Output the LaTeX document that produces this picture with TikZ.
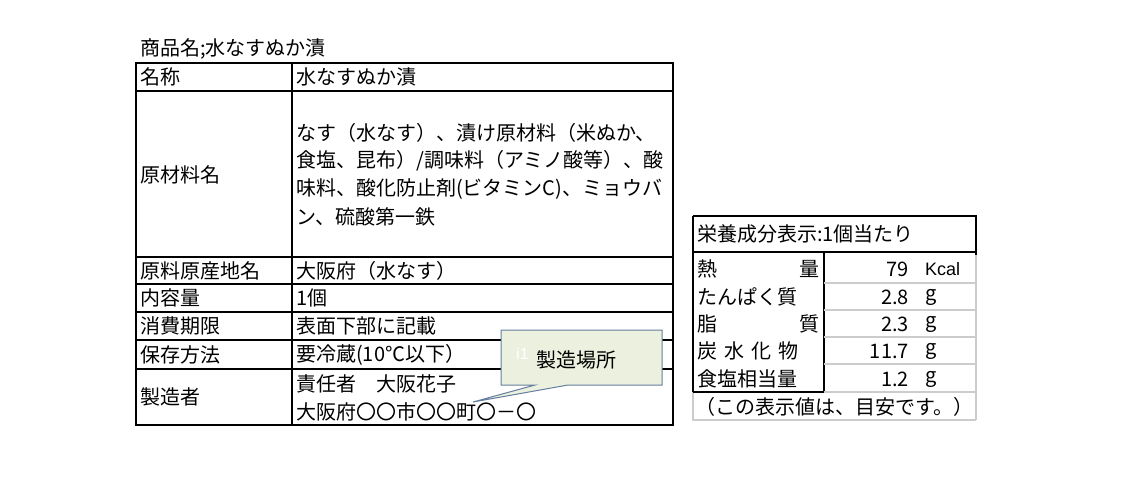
\documentclass[tikz,border=0pt]{standalone}
\usepackage{fontspec}
\setmainfont{Noto Sans CJK JP}
\newfontfamily\latinf{Liberation Sans}
\definecolor{cfill}{RGB}{235,241,222}
\definecolor{cdraw}{RGB}{100,125,160}
\begin{document}
\begin{tikzpicture}[x=1pt,y=-1pt,
  tx/.style={anchor=west,inner sep=0pt,font=\fontsize{20}{24}\selectfont},
  rx/.style={anchor=east,inner sep=0pt,font=\fontsize{20}{24}\selectfont},
  bl/.style={line width=1.3pt},
  gr/.style={line width=1.2pt,gray!40}]
\useasboundingbox (0,0) rectangle (1126,480);
\node[tx] (title) at (140,49) {商品名;水なすぬか漬};
% left table
\draw[bl] (136,63) rectangle (673,425);
\draw[bl] (292,63) -- (292,425);
\foreach \y in {91,257,284,312,340,369} \draw[bl] (136,\y) -- (673,\y);
\node[tx] (a1) at (140,77) {名称};
\node[tx] (b1) at (296,77) {水なすぬか漬};
\node[tx] (a2) at (140,175) {原材料名};
\node[tx] (b2a) at (296,133) {なす（水なす）、漬け原材料（米ぬか、};
\node[tx] (b2b) at (296,161) {食塩、昆布）/調味料（アミノ酸等）、酸};
\node[tx] (b2c) at (296,189) {味料、酸化防止剤(ビタミンC)、ミョウバ};
\node[tx] (b2d) at (296,217) {ン、硫酸第一鉄};
\node[tx] (a3) at (140,271) {原料原産地名};
\node[tx] (b3) at (296,271) {大阪府（水なす）};
\node[tx] (a4) at (140,298) {内容量};
\node[tx] (b4) at (296,298) {1個};
\node[tx] (a5) at (140,326) {消費期限};
\node[tx] (b5) at (296,326) {表面下部に記載};
\node[tx] (a6) at (140,355) {保存方法};
\node[tx] (b6) at (296,355) {要冷蔵(10℃以下）};
\node[tx] (a7) at (140,397) {製造者};
\node[tx] (b7a) at (296,384) {責任者　大阪花子};
\node[tx] (b7b) at (296,412) {大阪府〇〇市〇〇町〇－〇};
% callout
\coordinate (tip) at (473,402);
\draw[fill=cfill, draw=cdraw, line width=1pt]
  (501,330) -- (662,330) -- (662,385) -- (568,385) -- (tip) -- (535,385) -- (501,385) -- cycle;
\node[tx,white,font=\latinf\fontsize{16}{18}\selectfont] (i1) at (516,354) {i1};
\node[tx] (cl) at (536,360) {製造場所};
% right table
\draw[bl] (693,216) -- (976,216) -- (976,252);
\draw[bl] (693,216) -- (693,392);
\draw[bl] (693,252) -- (976,252);
\draw[bl] (824,252) -- (824,392);
\draw[bl] (976,252) -- (976,255);
\foreach \y in {283,310,337,364} \draw[gr] (824,\y) -- (976,\y);
\draw[gr] (693,392) -- (693,420) -- (976,420);
\draw[gr] (824,392) -- (976,392);
\draw[bl] (693,392) -- (824,392);
\draw[gr] (976,255) -- (976,420);
\node[tx] (h) at (697,234) {栄養成分表示:1個当たり};
\node[tx] (n1) at (697,269) {熱};
\node[rx] (n1b) at (820,269) {量};
\node[tx] (n2) at (697,297) {たんぱく質};
\node[tx] (n3) at (697,324) {脂};
\node[rx] (n3b) at (820,324) {質};
\node[tx] (n4) at (697,351) {炭\hspace{7pt}水\hspace{7pt}化\hspace{7pt}物};
\node[tx] (n5) at (697,379) {食塩相当量};
\node[rx] (v1) at (909,269) {79};
\node[tx,font=\latinf\fontsize{18}{20}\selectfont] (u1) at (925,269) {Kcal};
\node[rx] (v2) at (909,297) {2.8};
\node[tx] (u2) at (925,297) {g};
\node[rx] (v3) at (909,324) {2.3};
\node[tx] (u3) at (925,324) {g};
\node[rx] (v4) at (909,351) {11.7};
\node[tx] (u4) at (925,351) {g};
\node[rx] (v5) at (909,379) {1.2};
\node[tx] (u5) at (925,379) {g};
\node[tx] (foot) at (695,407) {（この表示値は、目安です。）};
\end{tikzpicture}
\end{document}
